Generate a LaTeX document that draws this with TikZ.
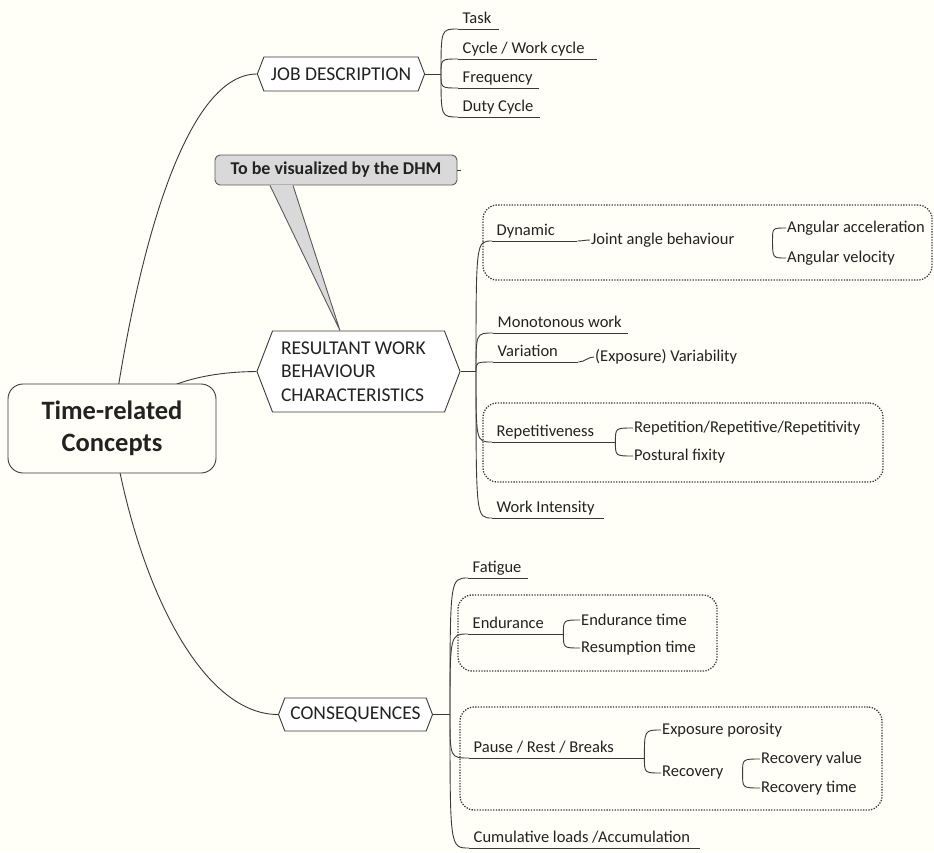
\documentclass[tikz,border=0pt]{standalone}
\usepackage{fontspec}
\setmainfont{Carlito}
\usepackage{xcolor}
\usepackage{tikz}
\usetikzlibrary{positioning, shapes.symbols, fit, backgrounds}
\definecolor{papercream}{HTML}{FFFFF7}
\definecolor{linegray}{HTML}{3A3A3A}
\definecolor{inkdark}{HTML}{222222}
\definecolor{calloutgray}{HTML}{D9D9D9}
\definecolor{rimgray}{HTML}{5A5A5A}

\begin{document}
\begin{tikzpicture}[x=1pt, y=-1pt,
  branch/.style={draw=linegray, line width=0.9pt},
  fan/.style={to path={.. controls (\tikztostart |- \tikztotarget) .. (\tikztotarget)}},
  root/.style={rectangle, rounded corners=15pt, draw=linegray, line width=0.9pt,
               fill=papercream, minimum width=208pt, minimum height=89pt,
               align=center, text=inkdark, font=\bfseries\fontsize{26.5}{32}\selectfont},
  topic/.style={signal, signal to=east and west, signal pointer angle=138,
                draw=linegray, fill=white, line width=0.9pt, text=inkdark,
                inner ysep=0pt, font=\fontsize{19.5}{23.5}\selectfont},
  leaf/.style={anchor=south west, text width=#1pt, align=flush left, inner xsep=4.5pt,
               inner ysep=5pt, text depth=0pt, text=inkdark,
               font=\fontsize{16.5}{19}\selectfont,
               append after command={(\tikzlastnode.south west) edge[branch] (\tikzlastnode.south east)}},
  sub/.style={anchor=west, inner sep=1pt, text=inkdark, font=\fontsize{16.5}{19}\selectfont},
  group/.style={draw=linegray, line width=1.3pt, dash pattern=on 1.3pt off 1.4pt,
                rounded corners=14pt, inner sep=0pt},
  note/.style={rectangle, rounded corners=5pt, draw=rimgray, fill=calloutgray,
               line width=0.9pt, minimum width=242pt, minimum height=30pt,
               text=inkdark, font=\bfseries\fontsize{18}{21}\selectfont},
]
\useasboundingbox (0,0) rectangle (934,852);
\begin{scope}[on background layer]
  \fill[papercream] (0,0) rectangle (934,852);
\end{scope}

% Central topic
\node[root] (root) at (112,428.5) {Time-related\\Concepts};

% Main topics
\node[topic, minimum height=34pt, inner xsep=7pt] (job) at (341,74) {JOB DESCRIPTION};
\node[topic, minimum height=81pt, inner xsep=8.5pt, text width=155pt, align=flush left]
  (res) at (358.5,371.5) {RESULTANT WORK\\BEHAVIOUR\\CHARACTERISTICS};
\node[topic, minimum height=33pt, inner xsep=5.5pt] (cons) at (355.5,714.5) {CONSEQUENCES};

\begin{scope}[on background layer]
  \draw[branch] (root.center) .. controls (140,230) and (190,74) .. (job.west);
  \draw[branch] (root.center) .. controls (150,385) and (200,372) .. (res.west);
  \draw[branch] (root.center) .. controls (135,580) and (200,714.5) .. (cons.west);
\end{scope}

% Job description
\coordinate (jj) at (441,74);
\draw[branch] (job.east) -- (jj);
\node[leaf=32]  (task)  at (458,29)  {Task};
\node[leaf=130] (cycle) at (458,59)  {Cycle / Work cycle};
\node[leaf=72]  (freq)  at (458,88)  {Frequency};
\node[leaf=73]  (duty)  at (458,117) {Duty Cycle};
\foreach \n in {task,cycle,freq,duty}
  \draw[branch] (jj) to[fan] (\n.south west);

% Resultant work behaviour
\coordinate (jr) at (476,371.5);
\draw[branch] (res.east) -- (jr);
\node[leaf=76]  (dyn)  at (492,241) {Dynamic};
\node[leaf=126] (mono) at (493,333) {Monotonous work};
\node[leaf=76]  (vari) at (493,362) {Variation};
\node[leaf=114] (rep)  at (492,442) {Repetitiveness};
\node[leaf=103] (wint) at (492,518) {Work Intensity};
\foreach \n in {dyn,mono,vari,rep,wint}
  \draw[branch] (jr) to[fan] (\n.south west);

\node[sub] (jab)    at (590,240) {Joint angle behaviour};
\node[sub] (angacc) at (786,228) {Angular acceleration};
\node[sub] (angvel) at (786,258) {Angular velocity};
\draw[branch] (dyn.south east) to[out=0, in=180] (jab.west);
\coordinate (jabfork) at ([xshift=37pt]jab.east);
\foreach \n in {angacc,angvel}
  \draw[branch] (jabfork) to[fan] (\n.west);

\node[sub] (expvar) at (594,357) {(Exposure) Variability};
\draw[branch] (vari.south east) to[out=0, in=180] (expvar.west);

\node[sub] (repeti)  at (633,428) {Repetition/Repetitive/Repetitivity};
\node[sub] (postfix) at (633,456) {Postural fixity};
\foreach \n in {repeti,postfix}
  \draw[branch] (rep.south east) to[fan] (\n.west);

% Consequences
\coordinate (jc) at (450,714.5);
\draw[branch] (cons.east) -- (jc);
\node[leaf=51]  (fat)    at (468,578) {Fatigue};
\node[leaf=86]  (endu)   at (468,634) {Endurance};
\node[leaf=166] (pause)  at (469,758) {Pause / Rest / Breaks};
\node[leaf=222] (cumul)  at (469,848) {Cumulative loads /Accumulation};
\foreach \n in {fat,endu,pause,cumul}
  \draw[branch] (jc) to[fan] (\n.south west);

\node[sub] (endtime) at (580,620) {Endurance time};
\node[sub] (restime) at (580,648) {Resumption time};
\foreach \n in {endtime,restime}
  \draw[branch] (endu.south east) to[fan] (\n.west);

\node[sub] (expporo) at (661,730) {Exposure porosity};
\node[sub] (recov)   at (661,773) {Recovery};
\foreach \n in {expporo,recov}
  \draw[branch] (pause.south east) to[fan] (\n.west);

\node[sub] (recval)  at (760,759) {Recovery value};
\node[sub] (rectime) at (760,788) {Recovery time};
\coordinate (recfork) at ([xshift=18pt]recov.east);
\foreach \n in {recval,rectime}
  \draw[branch] (recfork) to[fan] (\n.west);

% Dotted groups
\node[group, fit={(483,205) (932,280)}] (dynbox)   {};
\node[group, fit={(483,403) (883,482)}] (repbox)   {};
\node[group, fit={(458,595) (717,671)}] (endubox)  {};
\node[group, fit={(460,707) (882,810)}] (pausebox) {};

% Callout
\node[note] (dhm) at (336,170) {To be visualized by the DHM};
\fill[calloutgray] ([xshift=-66pt, yshift=0.5pt]dhm.south) -- ([xshift=-18.5pt]res.north)
  -- ([xshift=-43pt, yshift=0.5pt]dhm.south) -- cycle;
\draw[rimgray, line width=0.9pt] ([xshift=-66pt]dhm.south) -- ([xshift=-18.5pt]res.north)
  -- ([xshift=-43pt]dhm.south);
\draw[branch] (dhm.east) -- ++(4,0);
\end{tikzpicture}
\end{document}
